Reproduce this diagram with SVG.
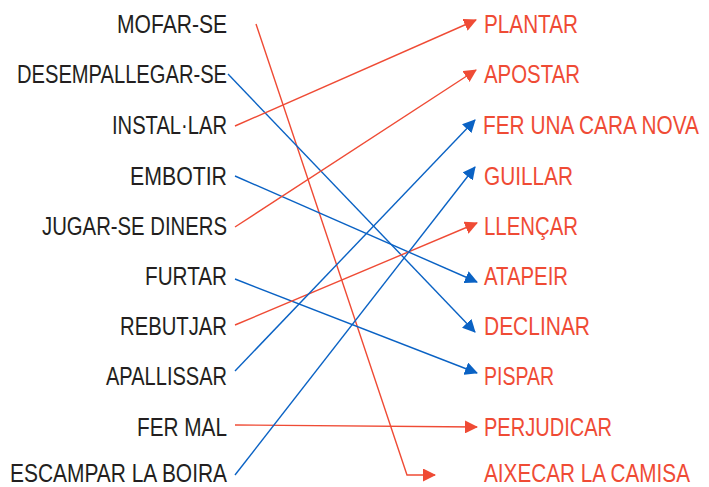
<svg xmlns="http://www.w3.org/2000/svg" width="709" height="487" viewBox="0 0 709 487">
<style>
text{font-family:"Liberation Sans",Arial,sans-serif;font-size:25px}
.l{fill:#231f20;text-anchor:end}
.r{fill:#ef4b35}
.cr{fill:none;stroke:#ef4b35;stroke-width:1.4}
.cb{fill:none;stroke:#0a62c4;stroke-width:1.4}
.cr{marker-end:url(#ar)}
.cb{marker-end:url(#ab)}
</style>
<defs>
<marker id="ar" markerUnits="userSpaceOnUse" markerWidth="13" markerHeight="13" viewBox="0 0 13 13" refX="12" refY="6.5" orient="auto"><path d="M0,0 L13,6.5 L0,13 z" fill="#ef4b35"/></marker>
<marker id="ab" markerUnits="userSpaceOnUse" markerWidth="13" markerHeight="13" viewBox="0 0 13 13" refX="12" refY="6.5" orient="auto"><path d="M0,0 L13,6.5 L0,13 z" fill="#0a62c4"/></marker>
</defs>
<g id="connectors">
<polyline class="cr" points="256,24 407,475 435,475"/>
<line class="cb" x1="228" y1="74" x2="475" y2="332"/>
<line class="cr" x1="235" y1="126" x2="476" y2="20"/>
<line class="cb" x1="235" y1="176" x2="477" y2="282"/>
<line class="cr" x1="235" y1="227" x2="476" y2="70"/>
<line class="cb" x1="235" y1="279" x2="477" y2="373"/>
<line class="cr" x1="235" y1="325" x2="477" y2="223"/>
<line class="cb" x1="235" y1="371" x2="475" y2="120"/>
<line class="cr" x1="235" y1="425" x2="477" y2="427"/>
<line class="cb" x1="235" y1="475" x2="475" y2="167"/>
</g>
<g id="left-1"><text class="l" x="227" y="33" textLength="110" lengthAdjust="spacingAndGlyphs">MOFAR-SE</text></g>
<g id="left-2"><text class="l" x="227" y="83" textLength="210" lengthAdjust="spacingAndGlyphs">DESEMPALLEGAR-SE</text></g>
<g id="left-3"><text class="l" x="227" y="134" textLength="115" lengthAdjust="spacingAndGlyphs">INSTAL·LAR</text></g>
<g id="left-4"><text class="l" x="227" y="185" textLength="97" lengthAdjust="spacingAndGlyphs">EMBOTIR</text></g>
<g id="left-5"><text class="l" x="227" y="235" textLength="185" lengthAdjust="spacingAndGlyphs">JUGAR-SE DINERS</text></g>
<g id="left-6"><text class="l" x="227" y="285" textLength="82" lengthAdjust="spacingAndGlyphs">FURTAR</text></g>
<g id="left-7"><text class="l" x="227" y="335" textLength="107" lengthAdjust="spacingAndGlyphs">REBUTJAR</text></g>
<g id="left-8"><text class="l" x="227" y="385" textLength="121" lengthAdjust="spacingAndGlyphs">APALLISSAR</text></g>
<g id="left-9"><text class="l" x="227" y="436" textLength="90" lengthAdjust="spacingAndGlyphs">FER MAL</text></g>
<g id="left-10"><text class="l" x="227" y="482" textLength="217" lengthAdjust="spacingAndGlyphs">ESCAMPAR LA BOIRA</text></g>
<g id="right-1"><text class="r" x="484" y="33" textLength="94" lengthAdjust="spacingAndGlyphs">PLANTAR</text></g>
<g id="right-2"><text class="r" x="484" y="83" textLength="96" lengthAdjust="spacingAndGlyphs">APOSTAR</text></g>
<g id="right-3"><text class="r" x="483" y="134" textLength="216" lengthAdjust="spacingAndGlyphs">FER UNA CARA NOVA</text></g>
<g id="right-4"><text class="r" x="484" y="185" textLength="89" lengthAdjust="spacingAndGlyphs">GUILLAR</text></g>
<g id="right-5"><text class="r" x="484" y="235" textLength="94" lengthAdjust="spacingAndGlyphs">LLENÇAR</text></g>
<g id="right-6"><text class="r" x="484" y="285" textLength="84" lengthAdjust="spacingAndGlyphs">ATAPEIR</text></g>
<g id="right-7"><text class="r" x="484" y="335" textLength="106" lengthAdjust="spacingAndGlyphs">DECLINAR</text></g>
<g id="right-8"><text class="r" x="484" y="385" textLength="70" lengthAdjust="spacingAndGlyphs">PISPAR</text></g>
<g id="right-9"><text class="r" x="484" y="436" textLength="128" lengthAdjust="spacingAndGlyphs">PERJUDICAR</text></g>
<g id="right-10"><text class="r" x="484" y="482" textLength="206" lengthAdjust="spacingAndGlyphs">AIXECAR LA CAMISA</text></g>
</svg>
